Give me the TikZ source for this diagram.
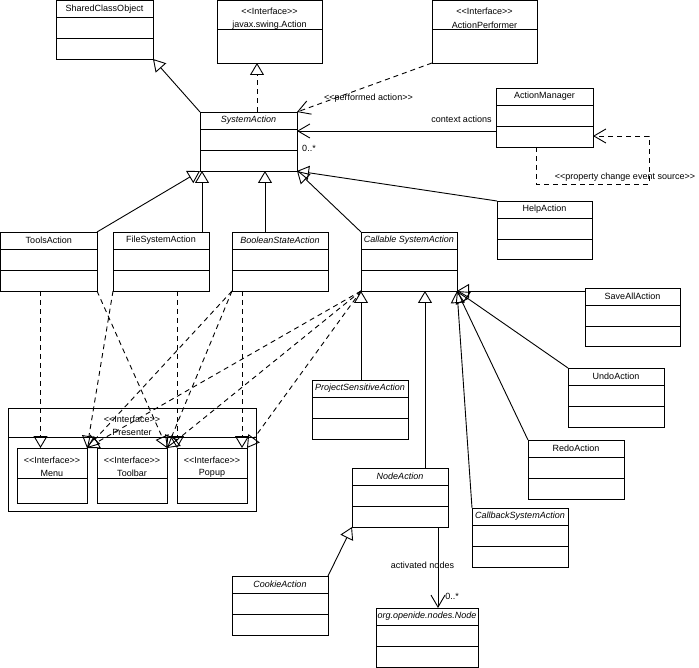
\documentclass[tikz,border=0pt]{standalone}
\usepackage{fontspec}
\setmainfont{Liberation Sans}
\usetikzlibrary{arrows.meta,calc}
\newcommand\stereo[1]{\textless\kern0pt\textless\kern0pt#1\textgreater\kern0pt\textgreater}
\tikzset{
  ln/.style={line width=0.9pt},
  clsbox/.style={draw, line width=0.9pt, inner sep=0pt, outer sep=0pt, anchor=north west},
  ttl/.style={font=\fontsize{9}{10}\selectfont, inner sep=0pt},
  lbl/.style={font=\fontsize{9}{10}\selectfont, inner sep=0pt},
  gen/.style={ln, -{Triangle[open,length=12pt,width=14pt]}},
  real/.style={gen, dash pattern=on 5pt off 4pt},
  assoc/.style={ln, -{Straight Barb[length=12pt,width=14pt]}},
  dep/.style={assoc, dash pattern=on 5pt off 4pt},
}
% class box: name, x, y, w, h, title
\newcommand\umlcls[6]{%
  \node[clsbox, minimum width=#4pt, minimum height=#5pt] (#1) at (#2,#3) {};
  \node[ttl] (#1-t) at ($(#1.north)+(0,8.5)$) {#6};
  \draw[ln] ($(#1.north west)+(0,17)$) -- ($(#1.north east)+(0,17)$);
  \draw[ln] ($(#1.north west)+(0,38)$) -- ($(#1.north east)+(0,38)$);
}
% interface box: name, x, y, w, h, title, divider offset
\newcommand\umlint[7]{%
  \node[clsbox, minimum width=#4pt, minimum height=#5pt] (#1) at (#2,#3) {};
  \node[ttl] (#1-s) at ($(#1.north)+(0,#7-18)$) {\stereo{Interface}};
  \node[ttl] (#1-t) at ($(#1.north)+(0,#7-4.5)$) {#6};
  \draw[ln] ($(#1.north west)+(0,#7)$) -- ($(#1.north east)+(0,#7)$);
}
\begin{document}
\begin{tikzpicture}[x=1pt,y=-1pt]
\useasboundingbox (0,0) rectangle (699,668);
% classes
\umlcls{sco}{56}{0.5}{97}{58.5}{SharedClassObject}
\umlint{jsa}{217}{0.5}{105}{62.5}{javax.swing.Action}{29}
\umlint{ap}{432}{0.5}{105}{62.5}{ActionPerformer}{29}
\umlcls{sa}{200}{112}{97}{59}{\textit{SystemAction}}
\umlcls{am}{496}{88}{97}{59}{ActionManager}
\umlcls{ha}{497}{201}{95}{58}{HelpAction}
\umlcls{ta}{0.5}{232}{96.5}{59}{ToolsAction}
\umlcls{fsa}{113}{232}{96}{59}{FileSystemAction}
\umlcls{bsa}{232}{232}{96}{59}{\textit{BooleanStateAction}}
\umlcls{csa}{361}{232}{96}{59}{\textit{Callable SystemAction}}
\umlcls{saa}{585}{288}{95}{58}{SaveAllAction}
\umlcls{psa}{312}{380}{96}{59}{\textit{ProjectSensitiveAction}}
\umlcls{ua}{568}{368}{96}{59}{UndoAction}
\umlcls{ra}{528}{440}{96}{59}{RedoAction}
\umlcls{na}{352}{468}{96}{59}{\textit{NodeAction}}
\umlcls{cba}{472}{508}{96}{59}{\textit{CallbackSystemAction}}
\umlcls{ca}{232}{576}{96}{59}{\textit{CookieAction}}
\umlcls{onn}{376}{608}{102}{59}{\textit{org.openide.nodes.Node}}
% presenter package-like interface
\node[clsbox, minimum width=248pt, minimum height=103pt] (pr) at (8,408) {};
\node[ttl] (pr-s) at ($(pr.north)+(0,11)$) {\stereo{Interface}};
\node[ttl] (pr-t) at ($(pr.north)+(0,24)$) {Presenter};
\draw[ln] ($(pr.north west)+(0,29)$) -- ($(pr.north east)+(0,29)$);
\umlint{menu}{17}{448}{70}{55}{Menu}{30}
\umlint{tb}{97}{448}{70}{55}{Toolbar}{30}
\umlint{pp}{177}{448}{70}{55}{Popup}{30}
% generalizations to SystemAction parents
\draw[gen] (sa.north west) -- (sco.south east);
\draw[real] ([xshift=57pt]sa.north west) -- ([xshift=57pt]sa.north west |- jsa.south);
\draw[dep] (ap.south west) -- (sa.north east);
\node[lbl] (palbl) at (368.5,98) {\stereo{performed action}};
\draw[assoc] ([yshift=-43pt]am.north west) -- ([yshift=-43pt]am.north west -| sa.east);
\node[lbl] (calbl) at (461.5,119) {context actions};
\node[lbl] (m1) at (309,148) {0..*};
\draw[dep] ([xshift=40pt]am.south west) -- ++(0,37) -- ++(113,0) -- ++(0,-48) -- ([yshift=11pt]am.south east);
\node[lbl] (pclbl) at (625,177) {\stereo{property change event source}};
% subclasses of SystemAction
\draw[gen] (ha.north west) -- (sa.south east);
\draw[gen] (csa.north west) -- (sa.south east);
\draw[gen] (ta.north east) -- (sa.south west);
\draw[gen] ([xshift=-7pt]fsa.north east) -- ([xshift=-7pt]fsa.north east |- sa.south);
\draw[gen] ([xshift=33pt]bsa.north west) -- ([xshift=33pt]bsa.north west |- sa.south);
% subclasses of CallableSystemAction
\draw[gen] ([xshift=49pt]psa.north west) -- ([xshift=49pt]psa.north west |- csa.south);
\draw[gen] ([xshift=73pt]na.north west) -- ([xshift=73pt]na.north west |- csa.south);
\draw[gen] ([yshift=-3pt]saa.north west) -- (csa.south east);
\draw[gen] (ua.north west) -- (csa.south east);
\draw[gen] (ra.north west) -- (csa.south east);
\draw[gen] (cba.north west) -- (csa.south east);
\draw[gen] (ca.north east) -- (na.south west);
\draw[assoc] ([xshift=86pt]na.south west) -- ([xshift=86pt]na.south west |- onn.north);
\node[lbl] (anlbl) at (422.5,565) {activated nodes};
\node[lbl] (m2) at (452,596) {0..*};
% realizations to presenters
\draw[real] ([xshift=40pt]ta.south west) -- ([xshift=40pt]ta.south west |- menu.north);
\draw[real] (ta.south east) -- (tb.north east);
\draw[real] (fsa.south west) -- (menu.north east);
\draw[real] ([xshift=64pt]fsa.south west) -- ([xshift=64pt]fsa.south west |- pp.north);
\draw[real] (bsa.south west) -- (menu.north east);
\draw[real] (bsa.south west) -- (tb.north east);
\draw[real] ([xshift=10pt]bsa.south west) -- ([xshift=10pt]bsa.south west |- pp.north);
\draw[real] (csa.south west) -- (menu.north east);
\draw[real] (csa.south west) -- (tb.north east);
\draw[real] (csa.south west) -- (pp.north east);
\end{tikzpicture}
\end{document}
